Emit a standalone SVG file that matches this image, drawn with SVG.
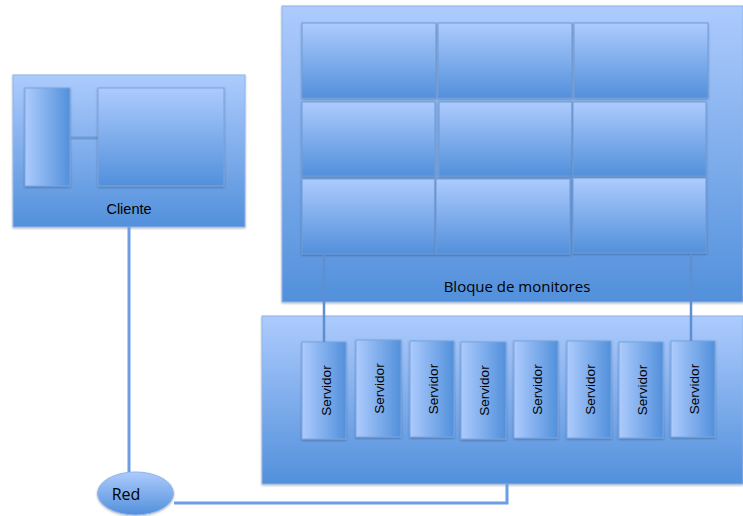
<svg xmlns="http://www.w3.org/2000/svg" width="743" height="516" viewBox="0 0 743 516">
  <defs>
    <linearGradient id="gv" x1="0" y1="0" x2="0" y2="1">
      <stop offset="0" stop-color="#adcbfd"/>
      <stop offset="1" stop-color="#5290db"/>
    </linearGradient>
    <linearGradient id="gh" x1="0" y1="0" x2="1" y2="0">
      <stop offset="0" stop-color="#adcbfd"/>
      <stop offset="1" stop-color="#5290db"/>
    </linearGradient>
    <filter id="sh" x="-10%" y="-10%" width="120%" height="120%">
      <feDropShadow dx="0" dy="1" stdDeviation="0.8" flood-color="#000" flood-opacity="0.3"/>
    </filter>
  </defs>
  <style>
    .box { fill: url(#gv); stroke: #8fb3ea; stroke-width: 1; filter: url(#sh); }
    .hbox { fill: url(#gh); stroke: #7aa3e0; stroke-width: 1; filter: url(#sh); }
    .mon { fill: url(#gv); stroke: #6f9bd8; stroke-width: 1; filter: url(#sh); }
    .wire { fill: none; stroke: #6d9de2; stroke-width: 3; }
    .lbl { font-family: "Open Sans", "Liberation Sans", sans-serif; fill: #000; }
    .sans { font-family: "Liberation Sans", Arial, sans-serif; fill: #000; }
    .srv { font-family: "Liberation Sans", Arial, sans-serif; fill: #000; font-size: 13.5px; text-anchor: middle; }
  </style>

  <!-- Cliente -->
  <g id="cliente">
    <rect class="box" x="13" y="75" width="232" height="152"/>
    <rect class="hbox" x="25" y="88" width="45" height="98"/>
    <line x1="70" y1="138" x2="98" y2="138" stroke="#6d98d4" stroke-width="3"/>
    <rect class="box" x="98" y="88" width="126" height="98" style="stroke:#7aa3e0"/>
    <text class="sans" x="129" y="214" font-size="14.5" text-anchor="middle">Cliente</text>
  </g>

  <!-- Bloque de monitores -->
  <g id="monitores">
    <rect class="box" x="282" y="6" width="461" height="296"/>
    <rect class="mon" x="302" y="23" width="134" height="75"/>
    <rect class="mon" x="438" y="23" width="134" height="75"/>
    <rect class="mon" x="574" y="23" width="134" height="75"/>
    <rect class="mon" x="302" y="102" width="133" height="74"/>
    <rect class="mon" x="439" y="102" width="133" height="74"/>
    <rect class="mon" x="573" y="102" width="133" height="74"/>
    <rect class="mon" x="302" y="179" width="133" height="75"/>
    <rect class="mon" x="436" y="179" width="134" height="75"/>
    <rect class="mon" x="573" y="178" width="133" height="75"/>
    <text class="lbl" x="517" y="292" font-size="15" text-anchor="middle">Bloque de monitores</text>
  </g>

  <!-- Servidores -->
  <g id="servidores">
    <rect class="box" x="262" y="316" width="481" height="168"/>
    <g id="srv1"><rect class="hbox" x="302" y="342" width="44" height="97"/><text class="srv" transform="translate(331 390.5) rotate(-90)">Servidor</text></g>
    <g id="srv2"><rect class="hbox" x="356" y="340" width="45" height="97"/><text class="srv" transform="translate(384 388.5) rotate(-90)">Servidor</text></g>
    <g id="srv3"><rect class="hbox" x="410" y="341" width="44" height="96"/><text class="srv" transform="translate(437.5 389) rotate(-90)">Servidor</text></g>
    <g id="srv4"><rect class="hbox" x="461" y="342" width="45" height="97"/><text class="srv" transform="translate(489 390.5) rotate(-90)">Servidor</text></g>
    <g id="srv5"><rect class="hbox" x="514" y="341" width="44" height="97"/><text class="srv" transform="translate(541.5 389.5) rotate(-90)">Servidor</text></g>
    <g id="srv6"><rect class="hbox" x="567" y="341" width="44" height="97"/><text class="srv" transform="translate(594.5 389.5) rotate(-90)">Servidor</text></g>
    <g id="srv7"><rect class="hbox" x="619" y="342" width="44" height="96"/><text class="srv" transform="translate(646.5 390) rotate(-90)">Servidor</text></g>
    <g id="srv8"><rect class="hbox" x="671" y="341" width="44" height="96"/><text class="srv" transform="translate(698.5 389) rotate(-90)">Servidor</text></g>
  </g>

  <!-- Red -->
  <g id="red">
    <ellipse cx="135.5" cy="493.5" rx="38" ry="21.5" fill="url(#gv)" stroke="#8fb3ea" stroke-width="1" filter="url(#sh)"/>
    <text class="lbl" x="126" y="500" font-size="16" text-anchor="middle">Red</text>
  </g>

  <!-- Conexiones -->
  <g id="conexiones">
    <line class="wire" x1="324" y1="254" x2="324" y2="342" style="stroke:#5f8fd0;stroke-width:2.5"/>
    <line class="wire" x1="691" y1="253" x2="691" y2="341" style="stroke:#5f8fd0;stroke-width:2.5"/>
    <line class="wire" x1="129" y1="227" x2="129" y2="472"/>
    <polyline class="wire" points="174,503 507,503 507,484"/>
  </g>
</svg>
